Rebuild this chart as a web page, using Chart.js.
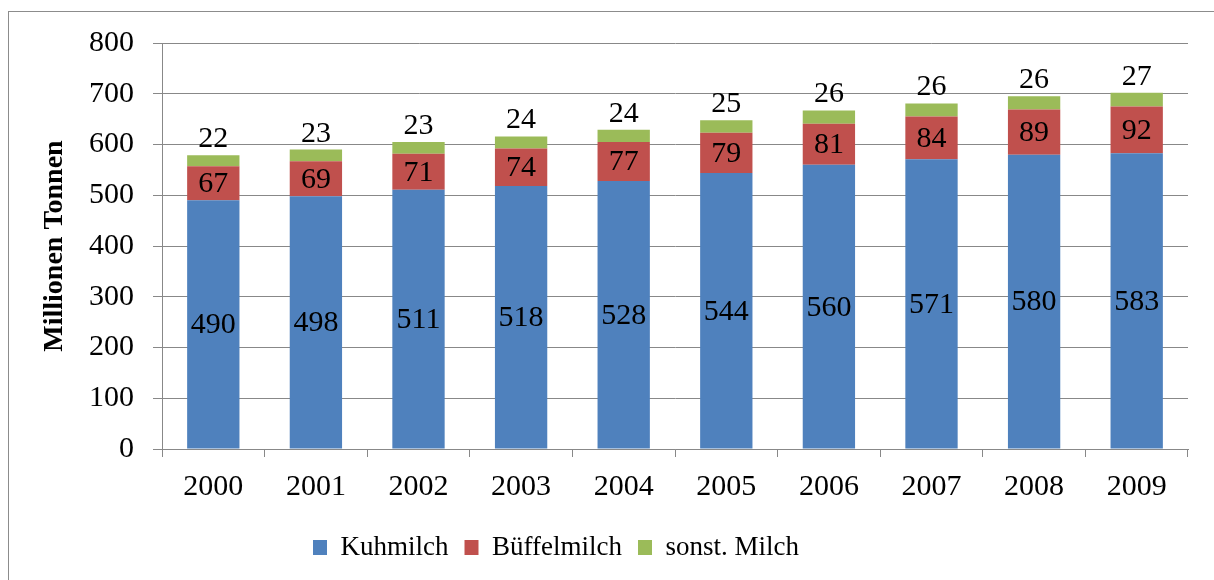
<!DOCTYPE html>
<html>
<head>
<meta charset="utf-8">
<script src="https://cdn.jsdelivr.net/npm/chart.js@4/dist/chart.umd.min.js"></script>
<style>
  html, body { margin: 0; padding: 0; background: #fff; }
  #wrap { width: 1214px; height: 580px; position: relative; }
</style>
</head>
<body>
<div id="wrap"><canvas id="c" width="1214" height="580"></canvas></div>
<script>
const years = ['2000','2001','2002','2003','2004','2005','2006','2007','2008','2009'];
const kuhmilch = [490, 498, 511, 518, 528, 544, 560, 571, 580, 583];
const bueffelmilch = [67, 69, 71, 74, 77, 79, 81, 84, 89, 92];
const sonstMilch = [22, 23, 23, 24, 24, 25, 26, 26, 26, 27];

const FONT = '"Liberation Serif", "Times New Roman", serif';
const GRID = '#888888';

const framePlugin = {
  id: 'frame',
  beforeDraw(chart) {
    const ctx = chart.ctx;
    ctx.save();
    ctx.fillStyle = '#fff';
    ctx.fillRect(0, 0, chart.width, chart.height);
    ctx.strokeStyle = '#8c8c8c';
    ctx.lineWidth = 1;
    ctx.strokeRect(8.5, 11.5, chart.width + 20, chart.height + 20);
    ctx.restore();
  }
};

// shift the legend's centre to where the reference places it
const legendShiftPlugin = {
  id: 'legendShift',
  afterLayout(chart) {
    const lg = chart.legend;
    if (lg) { lg.right -= 96; }
  }
};

const labelPlugin = {
  id: 'valueLabels',
  afterDatasetsDraw(chart) {
    const ctx = chart.ctx;
    ctx.save();
    ctx.font = '30px ' + FONT;
    ctx.fillStyle = '#000';
    ctx.textAlign = 'center';
    chart.data.datasets.forEach((ds, di) => {
      const meta = chart.getDatasetMeta(di);
      meta.data.forEach((bar, i) => {
        const v = ds.data[i];
        if (di < 2) {
          ctx.textBaseline = 'middle';
          ctx.fillText(String(v), bar.x, (bar.y + bar.base) / 2 + 1);
        } else {
          ctx.textBaseline = 'alphabetic';
          ctx.fillText(String(v), bar.x, bar.y - 8);
        }
      });
    });
    ctx.restore();
  }
};

new Chart(document.getElementById('c'), {
  type: 'bar',
  data: {
    labels: years,
    datasets: [
      { label: 'Kuhmilch', data: kuhmilch, backgroundColor: '#4F81BD' },
      { label: 'Büffelmilch', data: bueffelmilch, backgroundColor: '#C0504D' },
      { label: 'sonst. Milch', data: sonstMilch, backgroundColor: '#9BBB59' }
    ]
  },
  options: {
    responsive: false,
    animation: false,
    devicePixelRatio: 1,
    layout: { padding: { left: 20, right: 26, top: 43, bottom: 9 } },
    datasets: { bar: { categoryPercentage: 1.0, barPercentage: 0.51 } },
    plugins: {
      tooltip: { enabled: false },
      legend: {
        position: 'bottom',
        labels: {
          font: { family: FONT, size: 27 },
          color: '#000',
          boxWidth: 14,
          boxHeight: 15,
          padding: 16
        }
      }
    },
    scales: {
      x: {
        stacked: true,
        offset: true,
        grid: { display: true, drawOnChartArea: false, offset: true, color: GRID, tickLength: 8, lineWidth: 1 },
        border: { color: GRID, width: 1 },
        ticks: { font: { family: FONT, size: 30 }, color: '#000', padding: 12, maxRotation: 0 },
        afterFit(scale) { scale.height = 69; }
      },
      y: {
        stacked: true,
        min: 0,
        max: 800,
        ticks: { stepSize: 100, font: { family: FONT, size: 30 }, color: '#000', padding: 19 },
        grid: { color: GRID, tickLength: 9, lineWidth: 1 },
        border: { color: GRID, width: 1 },
        title: {
          display: true,
          text: 'Millionen Tonnen',
          font: { family: FONT, size: 28, weight: 'bold' },
          color: '#000',
          padding: { top: 18, bottom: 0 }
        },
        afterFit(scale) { scale.width = 142; }
      }
    }
  },
  plugins: [framePlugin, legendShiftPlugin, labelPlugin]
});
</script>
</body>
</html>
